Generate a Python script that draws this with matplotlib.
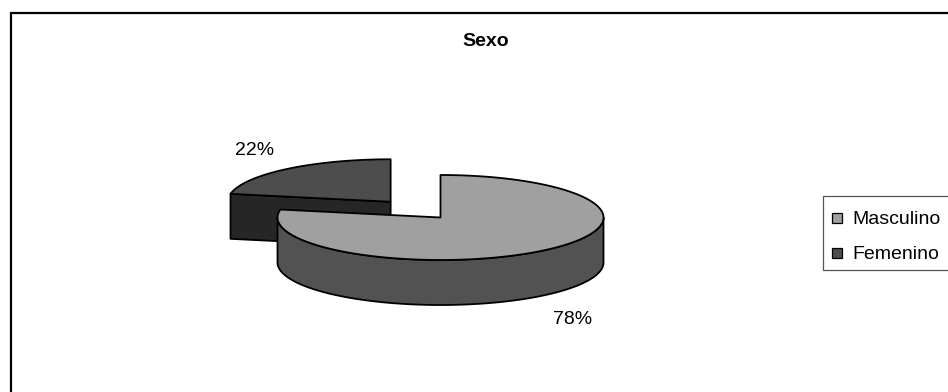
import numpy as np
import matplotlib
matplotlib.use("Agg")
import matplotlib.pyplot as plt
from matplotlib.patches import Polygon, Rectangle

plt.rcParams["font.family"] = ["Liberation Sans", "DejaVu Sans"]

TITLE = "Sexo"
categories = ["Masculino", "Femenino"]
shares = [78, 22]
top_colors = ["#a0a0a0", "#4d4d4d"]
wall_colors = ["#525252", "#262626"]
explode = [0.0, 0.48]

W, H = 948, 392
CX, CY = 440.5, 217.5      # pie centre, pixels
RX, RY = 163, 42.5         # ellipse radii of the tilted disc
DEPTH = 45

fig = plt.figure(figsize=(W / 100, H / 100), dpi=100)
ax = fig.add_axes([0, 0, 1, 1])
ax.set_xlim(0, W)
ax.set_ylim(H, 0)
ax.axis("off")


def arc(cx, cy, ta, tb, dz=0, n=200):
    t = np.radians(np.linspace(ta, tb, n))
    return np.column_stack([cx + RX * np.cos(t), cy - RY * np.sin(t) + dz])


def front_runs(t1, t0):
    # parts of [t1, t0] where the outer wall faces the viewer (sin < 0)
    runs = []
    for k in range(-2, 2):
        lo, hi = k * 360 - 180, k * 360
        a, b = max(lo, t1), min(hi, t0)
        if a < b:
            runs.append((a, b))
    return runs


# slice angles: start at 12 o'clock, clockwise
cum = np.concatenate([[0], np.cumsum(shares)]) / sum(shares) * 360
slices = []
for i in range(len(shares)):
    t0, t1 = 90 - cum[i], 90 - cum[i + 1]
    mid = np.radians((t0 + t1) / 2)
    cx = CX + explode[i] * RX * np.cos(mid)
    cy = CY - explode[i] * RY * np.sin(mid)
    slices.append((i, t0, t1, cx, cy))

# draw back slices first
slices.sort(key=lambda s: s[4])
kw = dict(edgecolor="black", linewidth=1.3, joinstyle="round")
for i, t0, t1, cx, cy in slices:
    # radial cut faces
    for t, normal in ((t0, t0 + 90), (t1, t1 - 90)):
        if np.sin(np.radians(normal)) < -1e-6:
            ox, oy = arc(cx, cy, t, t, n=1)[0]
            face = [(cx, cy), (ox, oy), (ox, oy + DEPTH), (cx, cy + DEPTH)]
            ax.add_patch(Polygon(face, facecolor=wall_colors[1], **kw))
    # curved outer wall
    for a, b in front_runs(t1, t0):
        top = arc(cx, cy, a, b)
        bot = arc(cx, cy, b, a, dz=DEPTH)
        ax.add_patch(Polygon(np.vstack([top, bot]), facecolor=wall_colors[0], **kw))
    # top face
    pts = np.vstack([[(cx, cy)], arc(cx, cy, t0, t1)])
    ax.add_patch(Polygon(pts, facecolor=top_colors[i], **kw))

# percentage labels
label_pos = [(553, 324), (235, 155)]
for share, (lx, ly) in zip(shares, label_pos):
    ax.text(lx, ly, f"{share}%", fontsize=14, ha="left", va="baseline")

ax.text(486, 46, TITLE, fontsize=14, fontweight="bold", ha="center", va="baseline")

# legend
ax.add_patch(Rectangle((823, 196), 200, 74, facecolor="white",
                       edgecolor="#555555", linewidth=0.9))
for k, (name, col) in enumerate(zip(categories, top_colors)):
    y = 213 + k * 35
    ax.add_patch(Rectangle((832, y), 10, 10, facecolor=col,
                           edgecolor="black", linewidth=0.9))
    ax.text(852, y + 11, name, fontsize=14, ha="left", va="baseline")

# chart area border
ax.plot([11, 11, W + 5], [H + 5, 13, 13], color="black", linewidth=1.6,
        solid_joinstyle="miter")

fig.savefig("out.png", dpi=100)
